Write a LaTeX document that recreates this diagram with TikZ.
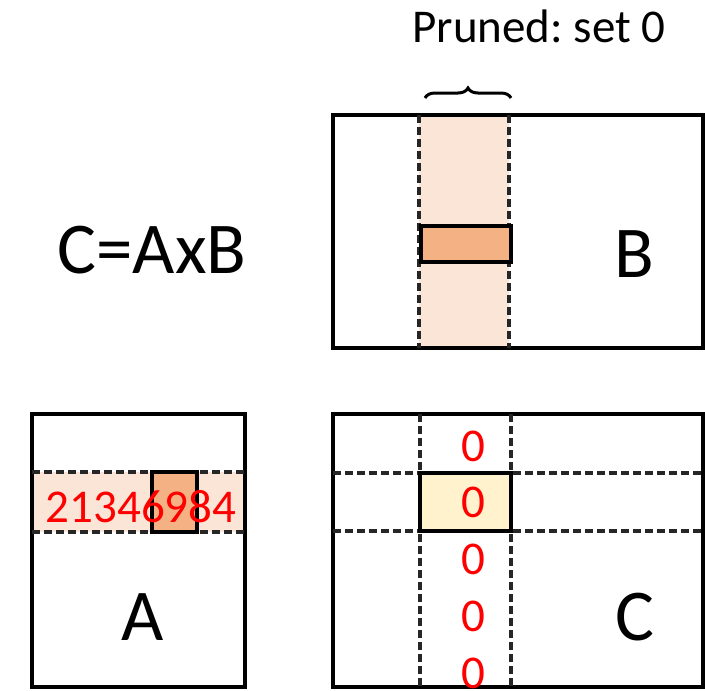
\documentclass[tikz,border=0pt]{standalone}
\usepackage{fontspec}
\setmainfont{Carlito}
\usetikzlibrary{decorations.pathreplacing}
\frenchspacing
\definecolor{lightpeach}{HTML}{FBE5D6}
\definecolor{peach}{HTML}{F4B183}
\definecolor{paleyellow}{HTML}{FFF2CC}
\tikzset{
  matbox/.style={draw=black, line width=4.6pt},
  cutline/.style={draw=black!85, line width=3.2pt, dash pattern=on 8pt off 4pt},
  tile/.style={draw=black, line width=4pt},
  bigtext/.style={inner sep=0pt, anchor=base, font=\fontsize{73}{73}\selectfont},
  redtext/.style={inner sep=0pt, anchor=base, text=red, font=\fontsize{47}{47}\selectfont},
}
\begin{document}
\begin{tikzpicture}[x=1pt, y=-1pt]
\useasboundingbox (0,0) rectangle (705,691);

% ---- matrix B (top right) ----
\coordinate (Bnw) at (333,115);
\coordinate (Bse) at (703,348);
\fill[lightpeach] (419,115) rectangle (509,348);
\draw[matbox] (Bnw) rectangle (Bse);
\draw[cutline] (419,115) -- (419,348);
\draw[cutline] (509,115) -- (509,348);
\draw[tile, fill=peach] (421,226) rectangle (511,262);
\node[bigtext] (Blabel) at (634,277) {B};

% brace over the pruned column
\coordinate (brL) at (425,98);
\coordinate (brR) at (511,98);
\draw[line width=3pt, decorate, decoration={brace, amplitude=10pt}] (brL) -- (brR);
\node[inner sep=0pt, anchor=base, font=\fontsize{47}{47}\selectfont] (pruned) at (539,42) {Pruned: set 0};

% ---- equation ----
\node[bigtext, font=\fontsize{73}{73}\selectfont] (eq) at (152,273) {C=AxB};

% ---- matrix A (bottom left) ----
\coordinate (Anw) at (32,414);
\coordinate (Ase) at (245,687);
\fill[lightpeach] (32,472) rectangle (245,532);
\draw[matbox] (Anw) rectangle (Ase);
\draw[cutline] (32,472) -- (245,472);
\draw[cutline] (32,532) -- (245,532);
\draw[tile, fill=peach] (152,472) rectangle (197,532);
\node[redtext] (Arow) at (141,522) {21346984};
\node[bigtext] (Alabel) at (143,640) {A};

% ---- matrix C (bottom right) ----
\coordinate (Cnw) at (333,414);
\coordinate (Cse) at (703,687);
\draw[matbox] (Cnw) rectangle (Cse);
\draw[cutline] (420,414) -- (420,687);
\draw[cutline] (511,414) -- (511,687);
\draw[cutline] (333,473) -- (703,473);
\draw[cutline] (333,531) -- (703,531);
\draw[tile, fill=paleyellow] (420,473) rectangle (511,531);
\node[redtext] (z1) at (473,461) {0};
\node[redtext] (z2) at (473,517) {0};
\node[redtext] (z3) at (473,574) {0};
\node[redtext] (z4) at (473,631) {0};
\node[redtext] (z5) at (473,688) {0};
\node[bigtext] (Clabel) at (635,640) {C};
\end{tikzpicture}
\end{document}
